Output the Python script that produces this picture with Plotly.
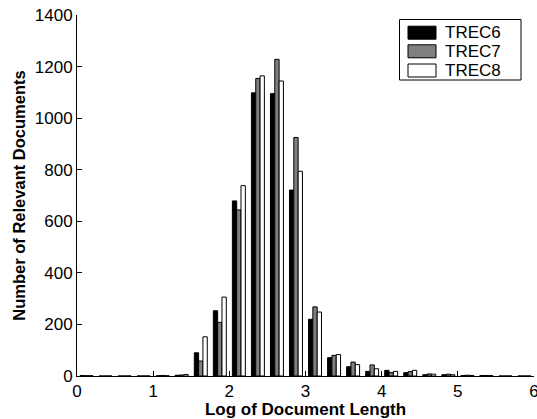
import plotly.graph_objects as go

# Bin centers (log of document length), bin width 0.25
bin_centers = [0.125 + 0.25 * i for i in range(24)]
trec6 = [2, 0, 0, 0, 1, 3, 90, 253, 679, 1098, 1095, 721, 220, 71, 36, 18, 22, 13, 5, 5, 2, 2, 0, 0]
trec7 = [1, 0, 0, 0, 2, 4, 58, 208, 644, 1154, 1228, 925, 268, 80, 54, 43, 13, 17, 8, 7, 3, 2, 0, 0]
trec8 = [1, 0, 0, 0, 1, 6, 152, 306, 738, 1164, 1144, 794, 248, 83, 44, 28, 18, 22, 7, 5, 2, 2, 0, 0]
series_names = ["TREC6", "TREC7", "TREC8"]
series_colors = ["#000000", "#808080", "#ffffff"]
x_ticks = [0, 1, 2, 3, 4, 5, 6]
y_ticks = [0, 200, 400, 600, 800, 1000, 1200, 1400]

FONT = "Liberation Sans, Arial, Helvetica, sans-serif"

fig = go.Figure()
for name, vals, col in zip(series_names, [trec6, trec7, trec8], series_colors):
    fig.add_trace(go.Bar(
        x=bin_centers, y=vals, name=name,
        marker=dict(color=col, line=dict(color="#000000", width=1)),
        showlegend=False,
    ))

fig.update_layout(
    width=537, height=419,
    margin=dict(l=77, r=3, t=15, b=43, autoexpand=False),
    paper_bgcolor="white", plot_bgcolor="white",
    barmode="group", bargap=0.32, bargroupgap=0,
    font=dict(family=FONT, size=16, color="black"),
)
fig.update_xaxes(
    range=[0, 6], tickvals=x_ticks, ticktext=[str(v) for v in x_ticks],
    ticks="inside", ticklen=5, tickcolor="black", tickwidth=1,
    showline=True, linecolor="black", linewidth=1, mirror=False,
    showgrid=False, zeroline=False, ticklabeloverflow="allow", automargin=False,
    tickfont=dict(size=17, family=FONT),
    title=dict(text="<b>Log of Document Length</b>", font=dict(size=17, family=FONT), standoff=1),
)
fig.update_yaxes(
    range=[0, 1400], tickvals=y_ticks, ticktext=[str(v) for v in y_ticks],
    ticks="inside", ticklen=5, tickcolor="black", tickwidth=1,
    showline=True, linecolor="black", linewidth=1, mirror=False,
    showgrid=False, zeroline=False, automargin=False,
    tickfont=dict(size=17, family=FONT),
    title=dict(text="<b>Number of Relevant Documents</b>", font=dict(size=16.5, family=FONT), standoff=4),
)

# Manual legend box (paper coordinates computed from pixel positions)
W, H = 537, 419
L, R, T, B = 77, 3, 15, 43
pw, ph = W - L - R, H - T - B
def px(x):
    return (x - L) / pw
def py(y):
    return (H - B - y) / ph

fig.add_shape(type="rect", xref="paper", yref="paper",
              x0=px(399.5), x1=px(521), y0=py(80), y1=py(19.5),
              line=dict(color="black", width=1), fillcolor="white", layer="above")
row_centers = [32.7, 51.3, 70.5]
for name, col, yc in zip(series_names, series_colors, row_centers):
    fig.add_shape(type="rect", xref="paper", yref="paper",
                  x0=px(408), x1=px(436), y0=py(yc + 6.5), y1=py(yc - 6.5),
                  line=dict(color="black", width=1), fillcolor=col, layer="above")
    fig.add_annotation(xref="paper", yref="paper", x=px(443), y=py(yc),
                       text=name, showarrow=False, xanchor="left", yanchor="middle",
                       font=dict(size=17, family=FONT, color="black"))

fig.write_html("out.html")
